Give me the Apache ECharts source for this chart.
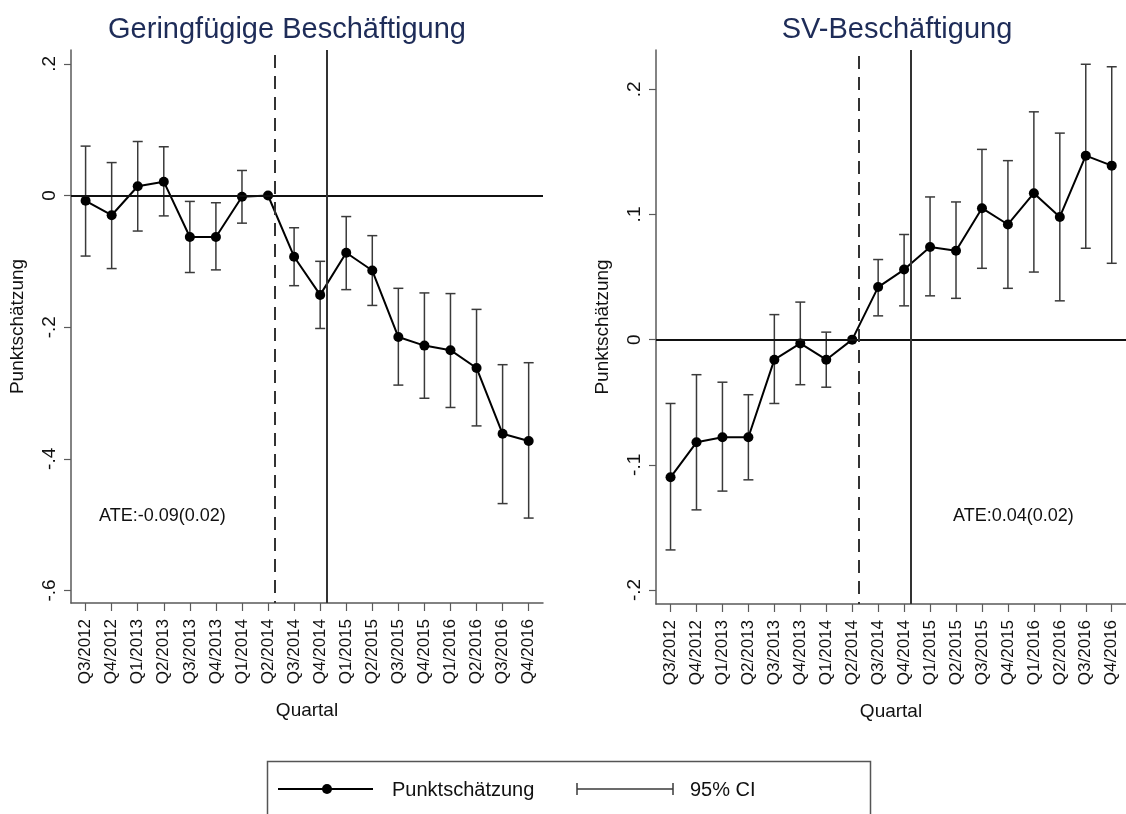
<!DOCTYPE html>
<html>
<head>
<meta charset="utf-8">
<script src="https://cdn.jsdelivr.net/npm/echarts@6/dist/echarts.min.js"></script>
<style>
html,body{margin:0;padding:0;background:#fff;}
#chart{width:1126px;height:814px;}
</style>
</head>
<body>
<div id="chart"></div>
<script>
// ---- Data ----
const quarters = ['Q3/2012','Q4/2012','Q1/2013','Q2/2013','Q3/2013','Q4/2013','Q1/2014','Q2/2014','Q3/2014',
  'Q4/2014','Q1/2015','Q2/2015','Q3/2015','Q4/2015','Q1/2016','Q2/2016','Q3/2016','Q4/2016'];

const geringEst = [-0.008,-0.030,0.014,0.021,-0.063,-0.063,-0.002,0,-0.093,-0.151,-0.087,-0.114,-0.215,-0.228,-0.235,-0.262,-0.362,-0.373];
const geringLo  = [-0.092,-0.111,-0.054,-0.031,-0.117,-0.113,-0.042,null,-0.137,-0.202,-0.143,-0.167,-0.288,-0.308,-0.322,-0.350,-0.468,-0.490];
const geringHi  = [0.075,0.050,0.082,0.074,-0.009,-0.011,0.038,null,-0.049,-0.100,-0.032,-0.061,-0.141,-0.148,-0.149,-0.173,-0.257,-0.254];

const svEst = [-0.110,-0.082,-0.078,-0.078,-0.016,-0.003,-0.016,0,0.042,0.056,0.074,0.071,0.105,0.092,0.117,0.098,0.147,0.139];
const svLo  = [-0.168,-0.136,-0.121,-0.112,-0.051,-0.036,-0.038,null,0.019,0.027,0.035,0.033,0.057,0.041,0.054,0.031,0.073,0.061];
const svHi  = [-0.051,-0.028,-0.034,-0.044,0.020,0.030,0.006,null,0.064,0.084,0.114,0.110,0.152,0.143,0.182,0.165,0.220,0.218];

const titles = ['Geringfügige Beschäftigung','SV-Beschäftigung'];
const ateTexts = ['ATE:-0.09(0.02)','ATE:0.04(0.02)'];
const leftTicks = [-0.6,-0.4,-0.2,0,0.2];
const rightTicks = [-0.2,-0.1,0,0.1,0.2];
const dashedAt = 7.26;   // reference lines (in quarter index units)
const solidAt = 9.24;

// ---- Helpers ----
const FONT = '"Liberation Sans", Arial, sans-serif';
const xIdx = quarters.map((q,i)=>i);
function stataFmt(v){
  if (Math.abs(v) < 1e-9) return '0';
  let s = String(Math.round(v*10)/10);
  return s.replace('0.', '.');
}
function pts(est){ return est.map((v,i)=>[i,v]); }
function cis(lo,hi){ const out=[]; lo.forEach((l,i)=>{ if(l!==null && hi[i]!==null) out.push([i,l,hi[i]]); }); return out; }

function errRender(params, api){
  const x = api.value(0), lo = api.value(1), hi = api.value(2);
  const a = api.coord([x, lo]), b = api.coord([x, hi]);
  const w = 5;
  const st = {stroke:'#3a3a3a', lineWidth:1.5};
  return {type:'group', children:[
    {type:'line', shape:{x1:a[0],y1:a[1],x2:b[0],y2:b[1]}, style:st},
    {type:'line', shape:{x1:a[0]-w,y1:a[1],x2:a[0]+w,y2:a[1]}, style:st},
    {type:'line', shape:{x1:b[0]-w,y1:b[1],x2:b[0]+w,y2:b[1]}, style:st}
  ]};
}

function xAxisDef(gi){
  return {
    type:'value', gridIndex:gi, min:-0.56, max:17.55,
    splitLine:{show:false},
    axisLine:{show:true, onZero:false, lineStyle:{color:'#5a5a5a', width:1.5}},
    axisTick:{show:true, length:8, customValues:xIdx, lineStyle:{color:'#5a5a5a', width:1.2}},
    axisLabel:{customValues:xIdx, rotate:90, fontSize:17, color:'#111', fontFamily:FONT, margin:16,
      formatter:(v)=>quarters[Math.round(v)]},
    name:'Quartal', nameLocation:'middle', nameGap:98,
    nameTextStyle:{fontSize:19, color:'#111', fontFamily:FONT}
  };
}
function yAxisDef(gi, min, max, ticks){
  return {
    type:'value', gridIndex:gi, min:min, max:max,
    splitLine:{show:false},
    axisLine:{show:true, onZero:false, lineStyle:{color:'#5a5a5a', width:1.5}},
    axisTick:{show:true, length:7, customValues:ticks, lineStyle:{color:'#5a5a5a', width:1.2}},
    axisLabel:{customValues:ticks, rotate:90, fontSize:19, color:'#111', fontFamily:FONT, margin:12,
      formatter:stataFmt},
    name:'Punktschätzung', nameLocation:'middle', nameGap:44, nameRotate:90,
    nameTextStyle:{fontSize:19, color:'#111', fontFamily:FONT}
  };
}

function panelSeries(gi, est, lo, hi){
  return [
    {
      type:'line', xAxisIndex:gi, yAxisIndex:gi, data:[], silent:true, z:1,
      markLine:{
        silent:true, symbol:'none', label:{show:false},
        data:[
          {yAxis:0, lineStyle:{color:'#111', width:2, type:'solid'}},
          {xAxis:dashedAt, lineStyle:{color:'#333', width:2, type:[13,8], dashOffset:-10}},
          {xAxis:solidAt, lineStyle:{color:'#333', width:2, type:'solid'}}
        ]
      }
    },
    {
      type:'custom', xAxisIndex:gi, yAxisIndex:gi, data:cis(lo,hi), renderItem:errRender,
      encode:{x:0, y:[1,2]}, z:3, silent:true
    },
    {
      type:'line', xAxisIndex:gi, yAxisIndex:gi, data:pts(est), z:4, silent:true,
      symbol:'circle', symbolSize:10, showAllSymbol:true,
      lineStyle:{color:'#000', width:2}, itemStyle:{color:'#000'}
    }
  ];
}

const chart = echarts.init(document.getElementById('chart'), null, {renderer:'canvas'});
chart.setOption({
  backgroundColor:'#fff',
  animation:false,
  grid:[
    {left:71, top:50, width:472, height:553},
    {left:656, top:50, width:473, height:554}
  ],
  xAxis:[xAxisDef(0), xAxisDef(1)],
  yAxis:[yAxisDef(0,-0.619,0.221,leftTicks), yAxisDef(1,-0.2112,0.2314,rightTicks)],
  series:[].concat(panelSeries(0, geringEst, geringLo, geringHi), panelSeries(1, svEst, svLo, svHi)),
  graphic:[
    {type:'text', x:287, y:30, style:{text:titles[0], fill:'#1e2c58', font:'29px '+FONT, textAlign:'center', textVerticalAlign:'middle'}},
    {type:'text', x:897, y:30, style:{text:titles[1], fill:'#1e2c58', font:'29px '+FONT, textAlign:'center', textVerticalAlign:'middle'}},
    {type:'text', x:99, y:516, style:{text:ateTexts[0], fill:'#111', font:'18px '+FONT, textAlign:'left', textVerticalAlign:'middle'}},
    {type:'text', x:953, y:516, style:{text:ateTexts[1], fill:'#111', font:'18px '+FONT, textAlign:'left', textVerticalAlign:'middle'}},
    // legend
    {type:'rect', shape:{x:267.5, y:761.5, width:603, height:70}, style:{fill:'#fff', stroke:'#555', lineWidth:1.5}},
    {type:'line', shape:{x1:278, y1:789, x2:373, y2:789}, style:{stroke:'#000', lineWidth:2}},
    {type:'circle', shape:{cx:327, cy:789, r:5}, style:{fill:'#000'}},
    {type:'text', x:392, y:790, style:{text:'Punktschätzung', fill:'#111', font:'20px '+FONT, textAlign:'left', textVerticalAlign:'middle'}},
    {type:'line', shape:{x1:577, y1:789, x2:673, y2:789}, style:{stroke:'#3a3a3a', lineWidth:1.5}},
    {type:'line', shape:{x1:577, y1:783, x2:577, y2:795}, style:{stroke:'#3a3a3a', lineWidth:1.5}},
    {type:'line', shape:{x1:673, y1:783, x2:673, y2:795}, style:{stroke:'#3a3a3a', lineWidth:1.5}},
    {type:'text', x:690, y:790, style:{text:'95% CI', fill:'#111', font:'20px '+FONT, textAlign:'left', textVerticalAlign:'middle'}}
  ]
});
</script>
</body>
</html>
